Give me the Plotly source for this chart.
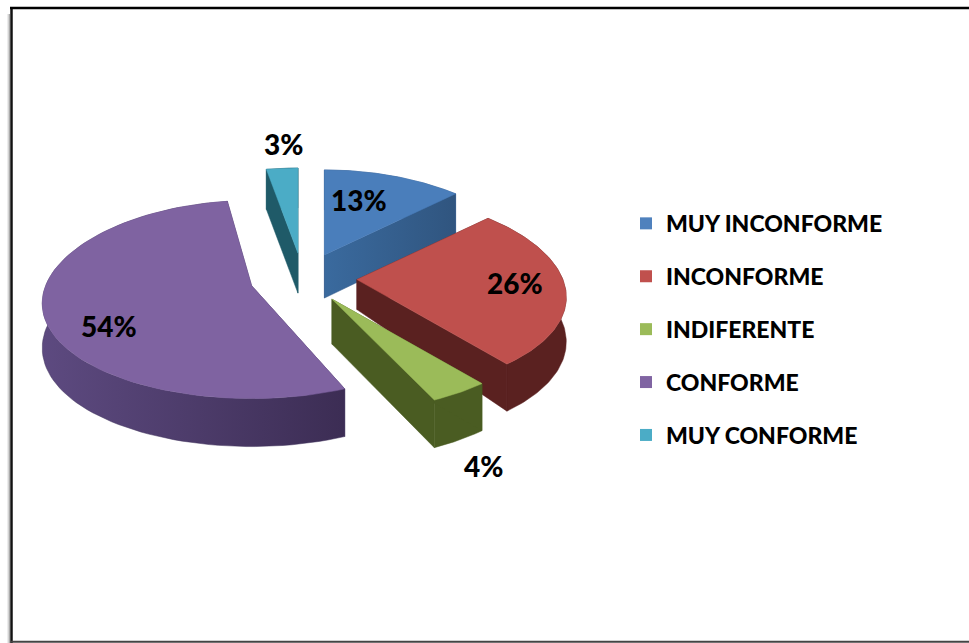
import numpy as np
import plotly.graph_objects as go

categories = ["MUY INCONFORME", "INCONFORME", "INDIFERENTE", "CONFORME", "MUY CONFORME"]
percentages = [13, 26, 4, 54, 3]
top_colors = ["#4a7ebb", "#bf504d", "#9bbb59", "#7f63a1", "#4bacc6"]
wall_colors = ["#33598a", "#5a2120", "#4a5c22", "#41325c", "#1f5a68"]
wall_shades = [("#3a6a9e", "#30557f"), None, None, ("#5d4a80", "#3c2d54"), None]
apex_depths = [43, 30, 45, 46, 40]
slice_turn_deg = [0, 0, 0, 2.5, 0]
label_positions = [(359, 200), (515, 283), (483, 466), (109, 326), (283, 144)]

# projection of the tilted pie into the pixel-sized data space
CX, CY = 303, 278
EXPLODE_X, EXPLODE_Y = 54, 25
RX, RY = 206, 99
KX, KY = 0.185, 0.14


def rim(theta):
    return (RX * (1 - KX * np.cos(theta)) * np.sin(theta),
            -RY * (1 - KY * np.cos(theta)) * np.cos(theta))


def depth(theta):
    return 44 - 4 * np.cos(theta)


fig = go.Figure()


def poly(xs, ys, color, shade=None):
    kw = dict(fillcolor=color)
    if shade:
        kw = dict(fillgradient=dict(type="horizontal",
                                    colorscale=[[0, shade[0]], [1, shade[1]]]))
    fig.add_trace(go.Scatter(x=list(xs) + [xs[0]], y=list(ys) + [ys[0]], mode="lines",
                             fill="toself", line=dict(color=color, width=0.5),
                             hoverinfo="skip", showlegend=False, **kw))


total = sum(percentages)
edges = np.concatenate([[0], np.cumsum(percentages)]) / total * 2 * np.pi
slices = []
for i in range(len(percentages)):
    turn = np.radians(slice_turn_deg[i])
    t0, t1 = edges[i] + turn, edges[i + 1] + turn
    mid = (edges[i] + edges[i + 1]) / 2
    ax = CX + EXPLODE_X * np.sin(mid)
    ay = CY - EXPLODE_Y * np.cos(mid)
    th = np.linspace(t0, t1, 90)
    dx, dy = rim(th)
    slices.append((i, ax, ay, th, ax + dx, ay + dy))

# painter's order: back to front
for i, ax, ay, th, rx, ry in [slices[k] for k in (4, 0, 3, 1, 2)]:
    d = depth(th)

    def arc_wall(shade=None):
        poly(np.r_[rx, rx[::-1]], np.r_[ry, (ry + d)[::-1]], wall_colors[i], shade)

    def radial_walls(shade=None):
        for j in (0, -1):
            poly([ax, rx[j], rx[j], ax], [ay, ry[j], ry[j] + d[j], ay + apex_depths[i]],
                 wall_colors[i], shade)

    if i == 3:
        radial_walls()
        arc_wall(wall_shades[i])
    else:
        arc_wall()
        radial_walls(wall_shades[i])
    poly(np.r_[ax, rx], np.r_[ay, ry], top_colors[i])

# legend
legend_swatches = ["#4f81bd", "#c0504d", "#9bbb59", "#8064a2", "#4bacc6"]
for name, color in zip(categories, legend_swatches):
    fig.add_trace(go.Scatter(x=[None], y=[None], mode="markers", name=name, legendgroup=name,
                             marker=dict(symbol="square", size=17, color=color)))

annotations = [dict(x=x, y=y, xref="x", yref="y", text=f"{p}%", showarrow=False,
                    font=dict(family="Lato", size=28, color="black", weight=900))
               for (x, y), p in zip(label_positions, percentages)]

shapes = []
for x, col in ((7.5, "#ececec"), (8.5, "#d4d4d4"), (9.5, "#aaaaaa")):
    shapes.append(dict(type="line", x0=x, x1=x, y0=14, y1=643, xref="x", yref="y",
                       line=dict(color=col, width=1), layer="below"))
shapes += [
    dict(type="line", x0=11.5, x1=11.5, y0=7, y1=643, xref="x", yref="y", line=dict(color="#111111", width=2.5)),
    dict(type="line", x0=10, x1=969, y0=8, y1=8, xref="x", yref="y", line=dict(color="black", width=2.5)),
    dict(type="line", x0=11, x1=969, y0=641.8, y1=641.8, xref="x", yref="y", line=dict(color="#444444", width=2)),
]

fig.update_layout(
    width=969, height=643, margin=dict(l=0, r=0, t=0, b=0),
    paper_bgcolor="white", plot_bgcolor="white",
    xaxis=dict(range=[0, 969], visible=False, fixedrange=True),
    yaxis=dict(range=[643, 0], visible=False, fixedrange=True),
    annotations=annotations, shapes=shapes,
    legend=dict(x=0.646, y=0.686, xanchor="left", yanchor="top", tracegroupgap=20,
                font=dict(family="Lato", size=23, color="black", weight=900),
                bgcolor="rgba(0,0,0,0)", itemsizing="constant"),
)
fig.write_html("out.html", config=dict(displayModeBar=False),
               post_script="document.body.style.margin='0';document.body.style.overflow='hidden';")
